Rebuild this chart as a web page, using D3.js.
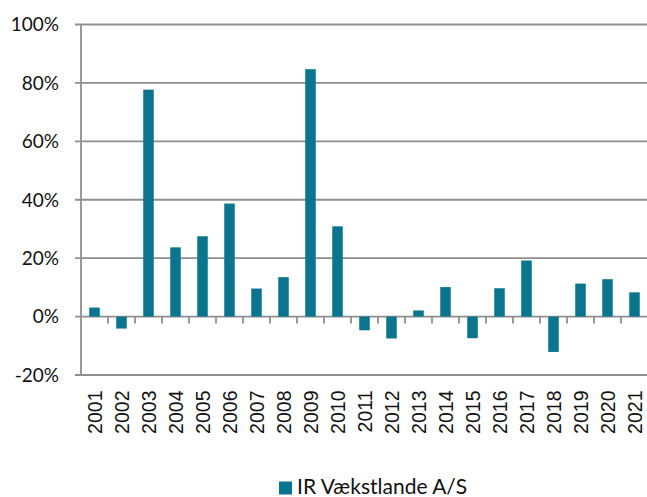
<!doctype html>
<html>
<head>
<meta charset="utf-8">
<style>
  body { margin: 0; background: #fff; }
  .ylab { font-family: Lato, "Open Sans", sans-serif; font-size: 19px; fill: #111; }
  .xlab { font-family: "Liberation Sans", Arial, sans-serif; font-size: 19.5px; fill: #111; }
  .legend { font-family: Lato, "Open Sans", sans-serif; font-size: 21px; fill: #111; }
</style>
<script src="https://d3js.org/d3.v7.min.js"></script>
</head>
<body>
<svg width="647" height="497"></svg>
<script>
// data
var years = ["2001","2002","2003","2004","2005","2006","2007","2008","2009","2010","2011",
             "2012","2013","2014","2015","2016","2017","2018","2019","2020","2021"];
var returns = [3.1, -4.1, 77.7, 23.7, 27.5, 38.7, 9.6, 13.5, 84.7, 30.9, -4.7,
               -7.5, 2.1, 10.1, -7.4, 9.7, 19.2, -12.1, 11.3, 12.8, 8.3];
var yTicks = [-20, 0, 20, 40, 60, 80, 100];
var seriesName = "IR Vækstlande A/S";

var svg = d3.select("svg");
var plotLeft = 81, plotRight = 648, plotTop = 24.5, plotBottom = 375;
var barColor = "#0b7590", gridColor = "#8f8f8f";

var x = d3.scaleBand().domain(years).range([plotLeft, plotRight])
    .paddingInner(0.61).paddingOuter(0.305);
var y = d3.scaleLinear().domain([-20, 100]).range([plotBottom, plotTop]);

// gridlines + left ticks
svg.append("g").selectAll("line")
  .data(yTicks).enter().append("line")
  .attr("x1", plotLeft - 6).attr("x2", plotRight)
  .attr("y1", function(d) { return y(d); })
  .attr("y2", function(d) { return y(d); })
  .attr("stroke", gridColor).attr("stroke-width", 1.8);

// y axis line
svg.append("line")
  .attr("x1", plotLeft).attr("x2", plotLeft)
  .attr("y1", plotTop).attr("y2", plotBottom)
  .attr("stroke", gridColor).attr("stroke-width", 1.8);

// y labels
svg.append("g").selectAll("text")
  .data(yTicks).enter().append("text")
  .attr("class", "ylab")
  .attr("x", 59)
  .attr("y", function(d) { return y(d); })
  .attr("dy", "0.36em")
  .attr("text-anchor", "end")
  .text(function(d) { return d + "%"; });

// bars
svg.append("g").selectAll("rect")
  .data(returns).enter().append("rect")
  .attr("x", function(d, i) { return x(years[i]); })
  .attr("width", x.bandwidth())
  .attr("y", function(d) { return y(Math.max(0, d)); })
  .attr("height", function(d) { return Math.abs(y(d) - y(0)); })
  .attr("fill", barColor);

// category ticks below the zero line
var step = x.step();
svg.append("g").selectAll("line")
  .data(years).enter().append("line")
  .attr("x1", function(d) { return x(d) - x.paddingOuter() * step + step; })
  .attr("x2", function(d) { return x(d) - x.paddingOuter() * step + step; })
  .attr("y1", y(0)).attr("y2", y(0) + 7)
  .attr("stroke", gridColor).attr("stroke-width", 1.8);

// year labels
svg.append("g").selectAll("text")
  .data(years).enter().append("text")
  .attr("class", "xlab")
  .attr("transform", function(d) {
    return "translate(" + (x(d) + x.bandwidth() / 2) + ",390.5) rotate(-90)";
  })
  .attr("dy", "0.36em")
  .attr("text-anchor", "end")
  .text(function(d) { return d; });

// legend
svg.append("rect")
  .attr("x", 279).attr("y", 481.5)
  .attr("width", 13).attr("height", 13)
  .attr("fill", barColor);
svg.append("text")
  .attr("class", "legend")
  .attr("x", 297).attr("y", 494)
  .text(seriesName);
</script>
</body>
</html>
